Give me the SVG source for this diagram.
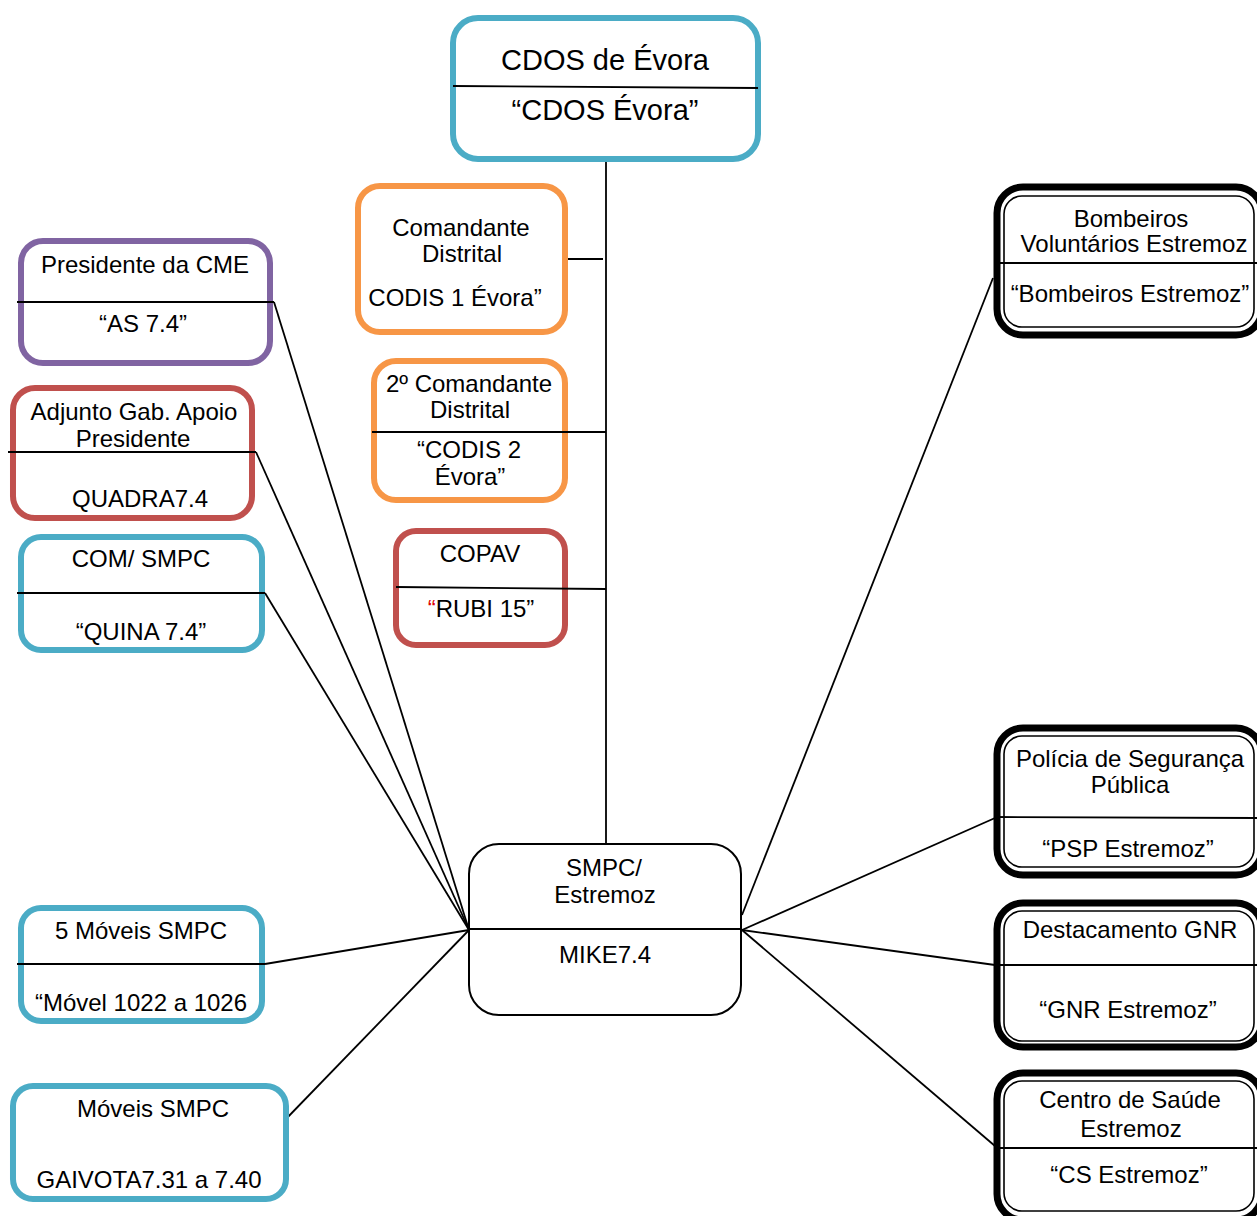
<svg xmlns="http://www.w3.org/2000/svg" width="1257" height="1216" viewBox="0 0 1257 1216">
<style>
text{font-family:"Liberation Sans",Arial,sans-serif;font-size:24px;fill:#000;text-anchor:middle}
.big{font-size:29px}
.box{fill:#fff;stroke-width:6}
.blue{stroke:#4BACC6}
.orange{stroke:#F79646}
.red{stroke:#C0504D}
.purple{stroke:#8064A2}
.outer{fill:#fff;stroke:#000;stroke-width:7}
.inner{fill:none;stroke:#000;stroke-width:1.6}
.ln{stroke:#000;stroke-width:1.8;fill:none}
</style>
<rect width="1257" height="1216" fill="#fff"/>
<g id="connectors">
<line class="ln" x1="606" y1="160" x2="606" y2="845"/>
<line class="ln" x1="568" y1="259" x2="603" y2="259"/>
<line class="ln" x1="274" y1="302" x2="469" y2="930"/>
<line class="ln" x1="256" y1="452" x2="469" y2="930"/>
<line class="ln" x1="265" y1="593" x2="469" y2="930"/>
<line class="ln" x1="265" y1="964" x2="469" y2="930"/>
<line class="ln" x1="285" y1="1120" x2="469" y2="930"/>
<line class="ln" x1="742" y1="915" x2="993" y2="278"/>
<line class="ln" x1="742" y1="930" x2="995" y2="818"/>
<line class="ln" x1="742" y1="930" x2="995" y2="965"/>
<line class="ln" x1="742" y1="930" x2="995" y2="1146"/>
</g>
<g id="cdos">
<rect class="box blue" x="453" y="18" width="305" height="141" rx="25"/>
<line class="ln" x1="453" y1="86" x2="758" y2="88"/>
<text class="big" x="605" y="70">CDOS de Évora</text>
<text class="big" x="605" y="120">“CDOS Évora”</text>
</g>
<g id="codis1">
<rect class="box orange" x="358" y="186" width="207" height="146" rx="22"/>
<text x="461" y="236">Comandante</text>
<text x="462" y="262">Distrital</text>
<text x="455" y="306">CODIS 1 Évora”</text>
</g>
<g id="codis2">
<rect class="box orange" x="374" y="361" width="191" height="139" rx="22"/>
<line class="ln" x1="372" y1="432" x2="606" y2="432"/>
<text x="469" y="392">2º Comandante</text>
<text x="470" y="418">Distrital</text>
<text x="469" y="458">“CODIS 2</text>
<text x="470" y="485">Évora”</text>
</g>
<g id="copav">
<rect class="box red" x="396" y="531" width="169" height="114" rx="20"/>
<line class="ln" x1="396" y1="587" x2="606" y2="589"/>
<text x="480" y="562">COPAV</text>
<text x="481" y="617"><tspan fill="#E00000">“</tspan>RUBI 15”</text>
</g>
<g id="presidente">
<rect class="box purple" x="21" y="241" width="249" height="122" rx="22"/>
<line class="ln" x1="17" y1="302" x2="274" y2="302"/>
<text x="145" y="273">Presidente da CME</text>
<text x="143" y="332">“AS 7.4”</text>
</g>
<g id="adjunto">
<rect class="box red" x="13" y="388" width="239" height="130" rx="22"/>
<line class="ln" x1="8" y1="452" x2="256" y2="452"/>
<text x="134" y="420">Adjunto Gab. Apoio</text>
<text x="133" y="447">Presidente</text>
<text x="140" y="507">QUADRA7.4</text>
</g>
<g id="com-smpc">
<rect class="box blue" x="21" y="537" width="241" height="113" rx="20"/>
<line class="ln" x1="17" y1="593" x2="265" y2="593"/>
<text x="141" y="567">COM/ SMPC</text>
<text x="141" y="640">“QUINA 7.4”</text>
</g>
<g id="moveis5">
<rect class="box blue" x="21" y="908" width="241" height="113" rx="20"/>
<line class="ln" x1="17" y1="964" x2="265" y2="964"/>
<text x="141" y="939">5 Móveis SMPC</text>
<text x="141" y="1011">“Móvel 1022 a 1026</text>
</g>
<g id="moveis">
<rect class="box blue" x="13" y="1086" width="273" height="113" rx="20"/>
<text x="153" y="1117">Móveis SMPC</text>
<text x="149" y="1188">GAIVOTA7.31 a 7.40</text>
</g>
<g id="smpc">
<rect x="469" y="844" width="272" height="171" rx="30" fill="#fff" stroke="#000" stroke-width="2"/>
<line class="ln" x1="469" y1="929" x2="741" y2="929"/>
<text x="604" y="876">SMPC/</text>
<text x="605" y="903">Estremoz</text>
<text x="605" y="963">MIKE7.4</text>
</g>
<g id="bombeiros">
<rect class="outer" x="997" y="187" width="265" height="148" rx="26"/>
<rect class="inner" x="1004" y="196" width="250" height="131" rx="18"/>
<line class="ln" x1="996" y1="263" x2="1257" y2="263"/>
<text x="1131" y="227">Bombeiros</text>
<text x="1134" y="252">Voluntários Estremoz</text>
<text x="1130" y="302">“Bombeiros Estremoz”</text>
</g>
<g id="psp">
<rect class="outer" x="997" y="728" width="265" height="147" rx="26"/>
<rect class="inner" x="1004" y="736" width="250" height="131" rx="18"/>
<line class="ln" x1="996" y1="817" x2="1257" y2="818"/>
<text x="1130" y="767">Polícia de Segurança</text>
<text x="1130" y="793">Pública</text>
<text x="1128" y="857">“PSP Estremoz”</text>
</g>
<g id="gnr">
<rect class="outer" x="997" y="903" width="265" height="144" rx="26"/>
<rect class="inner" x="1004" y="911" width="250" height="130" rx="18"/>
<line class="ln" x1="996" y1="965" x2="1257" y2="965"/>
<text x="1130" y="938">Destacamento GNR</text>
<text x="1128" y="1018">“GNR Estremoz”</text>
</g>
<g id="cs">
<rect class="outer" x="997" y="1073" width="265" height="147" rx="26"/>
<rect class="inner" x="1004" y="1081" width="250" height="130" rx="18"/>
<line class="ln" x1="996" y1="1148" x2="1257" y2="1148"/>
<text x="1130" y="1108">Centro de Saúde</text>
<text x="1131" y="1137">Estremoz</text>
<text x="1129" y="1183">“CS Estremoz”</text>
</g>
</svg>
